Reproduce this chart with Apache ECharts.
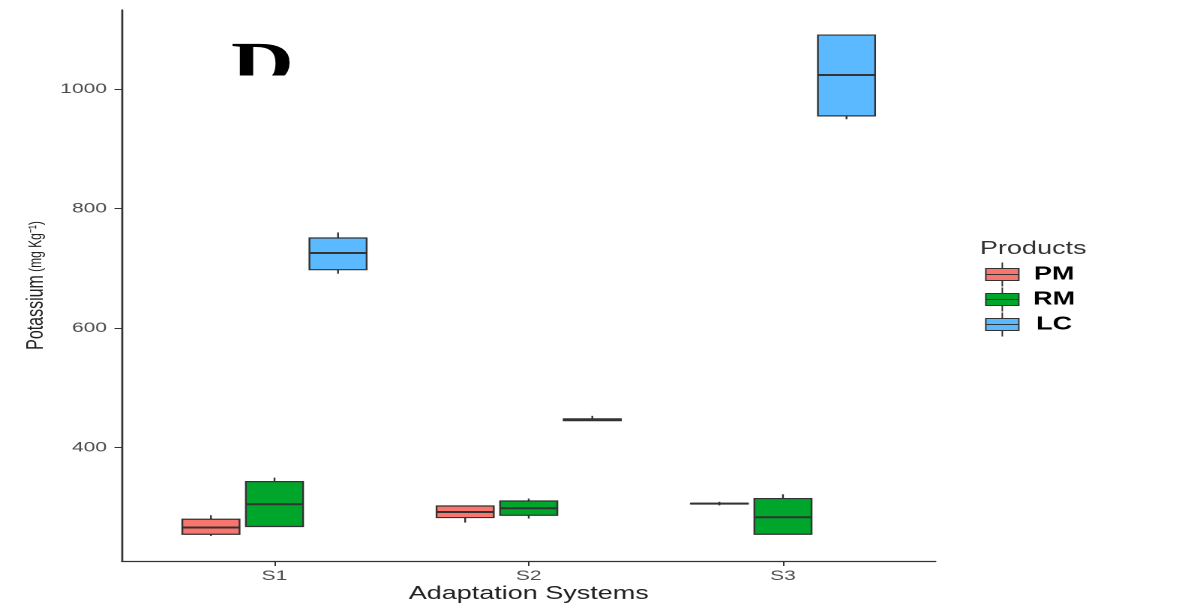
<!DOCTYPE html>
<html>
<head>
<meta charset="utf-8">
<title>Potassium by adaptation system</title>
<script src="https://cdn.jsdelivr.net/npm/echarts@6/dist/echarts.min.js"></script>
<style>
  html, body { margin: 0; padding: 0; background: #ffffff; overflow: hidden; }
  #chart { height: 605px; transform-origin: 0 0; }
</style>
</head>
<body>
<div id="chart"></div>
<script>
// Adaptation systems on the x axis and the products compared within each
const categories = ['S1', 'S2', 'S3'];
const products = ['PM', 'RM', 'LC'];

// Box statistics per system: [min, Q1, median, Q3, max] in mg/kg
const pmStats = [
  [251.8, 254.7, 265.9, 279.8, 286.5],
  [274.2, 282.6, 292.0, 302.0, 302.0],
  [303.0, 305.5, 306.0, 306.5, 309.0]
];
const rmStats = [
  [267.6, 267.6, 304.8, 342.8, 349.5],
  [281.0, 286.5, 298.2, 310.4, 314.4],
  [254.7, 254.7, 283.1, 314.4, 321.6]
];
const lcStats = [
  [691.1, 697.8, 725.8, 750.8, 760.2],
  [445.0, 445.0, 446.5, 448.0, 453.0],
  [949.8, 955.4, 1023.9, 1090.8, 1090.8]
];

const yTicks = [400, 600, 800, 1000];

// The plot is drawn on a narrower canvas and widened horizontally
const STRETCH = 1.5;
const PAGE_W = 1178, PAGE_H = 605;
const el = document.getElementById('chart');
el.style.width = (PAGE_W / STRETCH) + 'px';
el.style.transform = 'scaleX(' + STRETCH + ')';

const colors = ['#F8766D', '#00A62C', '#5BB9FF'];
const EDGE = '#333333';
const BOX_W = 0.225;     // box width in category units
const DODGE = 0.25;      // spacing between dodged boxes

// y range: data extent padded by 5% on each side
const allVals = [].concat(...pmStats, ...rmStats, ...lcStats);
const lo = Math.min(...allVals), hi = Math.max(...allVals);
const pad = (hi - lo) * 0.05;

function boxRenderer(offset, color) {
  return function (params, api) {
    const x = api.value(0) + offset;
    const pMin = api.coord([x, api.value(1)]);
    const pQ1 = api.coord([x, api.value(2)]);
    const pMed = api.coord([x, api.value(3)]);
    const pQ3 = api.coord([x, api.value(4)]);
    const pMax = api.coord([x, api.value(5)]);
    const half = api.size([BOX_W, 0])[0] / 2;
    const cx = pMed[0];
    return {
      type: 'group',
      children: [
        { type: 'line', shape: { x1: cx, y1: pMin[1], x2: cx, y2: pQ1[1] },
          style: { stroke: EDGE, lineWidth: 1.2 } },
        { type: 'line', shape: { x1: cx, y1: pQ3[1], x2: cx, y2: pMax[1] },
          style: { stroke: EDGE, lineWidth: 1.2 } },
        { type: 'rect', shape: { x: cx - half, y: pQ3[1], width: half * 2, height: Math.max(pQ1[1] - pQ3[1], 0.01) },
          style: { fill: color, stroke: EDGE, lineWidth: 1.2 } },
        { type: 'line', shape: { x1: cx - half, y1: pMed[1], x2: cx + half, y2: pMed[1] },
          style: { stroke: EDGE, lineWidth: 2 } }
      ]
    };
  };
}

function toRows(stats) {
  return stats.map((s, i) => [i + 1].concat(s));
}

const seriesStats = [pmStats, rmStats, lcStats];
const series = products.map((name, k) => ({
  name: name,
  type: 'custom',
  renderItem: boxRenderer((k - 1) * DODGE, colors[k]),
  itemStyle: { color: colors[k], borderColor: EDGE, borderWidth: 1 },
  encode: { x: 0, y: [1, 2, 3, 4, 5] },
  data: toRows(seriesStats[k]),
  silent: true
}));

const chart = echarts.init(el, null, { renderer: 'canvas', devicePixelRatio: 2 });

const axisFont = 'Liberation Sans, Arial, Helvetica, sans-serif';

chart.setOption({
  animation: false,
  backgroundColor: '#ffffff',
  textStyle: { fontFamily: axisFont },
  grid: {
    left: 81.3, right: PAGE_W / STRETCH - 624, top: 10, bottom: 44,
    containLabel: false, outerBoundsMode: 'none'
  },
  xAxis: {
    type: 'value',
    min: 0.4,
    max: 3.6,
    name: 'Adaptation Systems',
    nameLocation: 'middle',
    nameGap: 24,
    nameMoveOverlap: false,
    nameTextStyle: { fontSize: 18, color: '#222222', fontFamily: axisFont },
    axisLine: { show: true, lineStyle: { color: '#333333', width: 1.3 } },
    axisTick: { show: true, length: 5, customValues: [1, 2, 3], lineStyle: { color: '#333333', width: 1 } },
    axisLabel: {
      customValues: [1, 2, 3],
      formatter: v => categories[Math.round(v) - 1],
      fontSize: 14, color: '#4D4D4D', margin: 8, fontFamily: axisFont
    },
    splitLine: { show: false }
  },
  yAxis: {
    type: 'value',
    min: lo - pad,
    max: hi + pad,
    name: '{a|Potassium} {b|(mg Kg⁻¹)}',
    nameLocation: 'middle',
    nameRotate: 90,
    nameGap: 49,
    nameMoveOverlap: false,
    nameTextStyle: {
      color: '#222222',
      rich: {
        a: { fontSize: 16, color: '#222222', fontFamily: axisFont },
        b: { fontSize: 12, color: '#222222', fontFamily: axisFont }
      }
    },
    axisLine: { show: true, lineStyle: { color: '#333333', width: 1.3 } },
    axisTick: { show: true, length: 5, customValues: yTicks, lineStyle: { color: '#333333', width: 1 } },
    axisLabel: {
      customValues: yTicks,
      formatter: v => String(Math.round(v)),
      fontSize: 14, color: '#4D4D4D', margin: 10, fontFamily: axisFont
    },
    splitLine: { show: false }
  },
  legend: {
    data: products,
    orient: 'vertical',
    left: 656.7,
    top: 262,
    padding: 0,
    itemWidth: 22,
    itemHeight: 24,
    itemGap: 0,
    icon: 'path://M0,6H22V18H0Z M0,12H22 M11,0V6 M11,18V24',
    itemStyle: { borderColor: EDGE, borderWidth: 1 },
    selectedMode: false,
    formatter: '{a|{name}}',
    textStyle: {
      rich: {
        a: { fontSize: 18, fontWeight: 'bold', color: '#000000', width: 27, align: 'center',
             padding: [0, 0, 0, 5], fontFamily: axisFont }
      }
    }
  },
  graphic: [
    {
      type: 'text',
      left: 653.3,
      top: 240,
      style: { text: 'Products', fontSize: 18, fill: '#333333', fontFamily: axisFont }
    },
    {
      type: 'text',
      x: 154,
      y: 38,
      z: 10,
      style: { text: 'D', fontSize: 58, fontWeight: 'bold', fill: '#000000',
               fontFamily: 'Liberation Serif, Times New Roman, serif', verticalAlign: 'top' }
    },
    {
      type: 'rect',
      z: 11,
      shape: { x: 145, y: 75.5, width: 60, height: 20 },
      style: { fill: '#ffffff' }
    }
  ],
  series: series
});
</script>
</body>
</html>
